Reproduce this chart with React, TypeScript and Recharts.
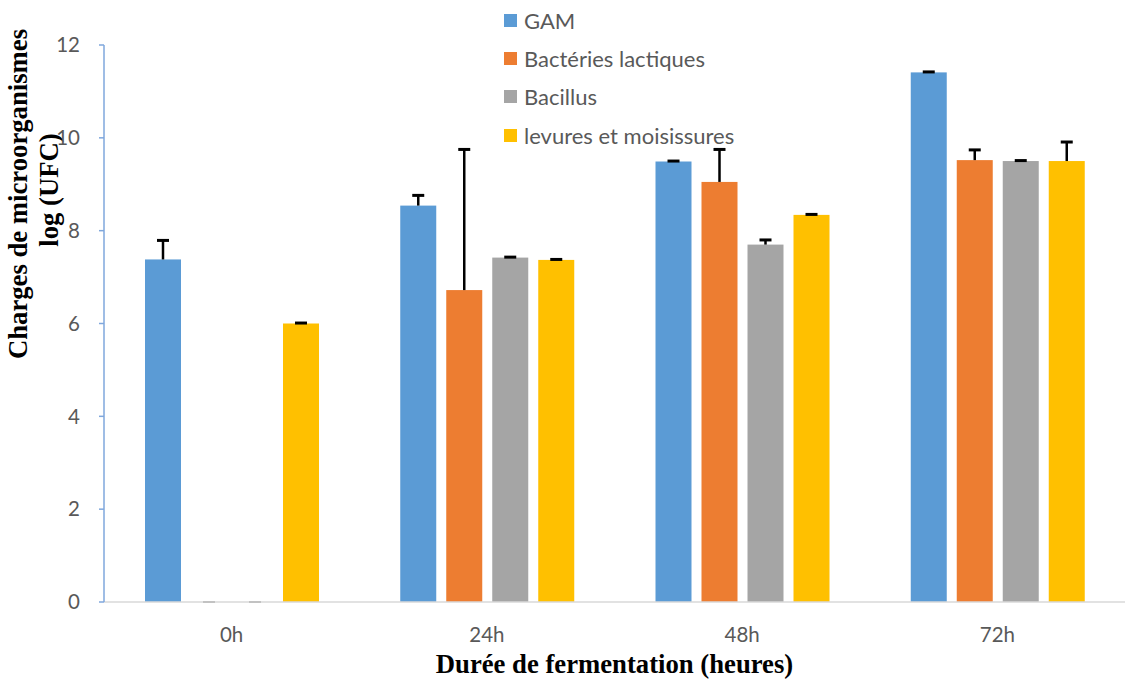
import React from 'react';
import { BarChart, Bar, XAxis, YAxis, Legend } from 'recharts';

const categories = ['0h', '24h', '48h', '72h'];
const gam = [7.38, 8.54, 9.49, 11.41];
const gamErr = [0.41, 0.22, 0.01, 0.01];
const bact = [0, 6.72, 9.05, 9.52];
const bactErr = [0, 3.03, 0.70, 0.22];
const bacillus = [0, 7.42, 7.70, 9.50];
const bacillusErr = [0, 0.01, 0.10, 0.01];
const levures = [6.0, 7.37, 8.34, 9.50];
const levuresErr = [0.01, 0.01, 0.01, 0.41];
const yTicks = [0, 2, 4, 6, 8, 10, 12];

const seriesNames = ['GAM', 'Bactéries lactiques', 'Bacillus', 'levures et moisissures'];
const seriesColors = ['#5B9BD5', '#ED7D31', '#A5A5A5', '#FFC000'];
const keys = ['gam', 'bact', 'bacillus', 'levures'];

const data = categories.map((c, i) => ({
  cat: c,
  gam: gam[i],
  gamErr: gamErr[i],
  bact: bact[i],
  bactErr: bactErr[i],
  bacillus: bacillus[i],
  bacillusErr: bacillusErr[i],
  levures: levures[i],
  levuresErr: levuresErr[i],
}));

const font = 'Lato, "Open Sans", sans-serif';
const serif = '"Liberation Serif", "Times New Roman", serif';

const makeShape = (k: string) => (props: any) => {
  const { x, y, width, height, fill, payload } = props;
  const v = payload[k];
  const e = payload[k + 'Err'];
  const cx = x + width / 2;
  if (!v) {
    return <line x1={cx - 6} x2={cx + 6} y1={y} y2={y} stroke="#7F7F7F" strokeWidth={2} />;
  }
  const pxPer = height / v;
  const ey = y - e * pxPer;
  return (
    <g>
      <rect x={x} y={y} width={width} height={height} fill={fill} />
      <line x1={cx} x2={cx} y1={y} y2={ey} stroke="#000" strokeWidth={2.5} />
      <line x1={cx - 6} x2={cx + 6} y1={ey} y2={ey} stroke="#000" strokeWidth={3} />
    </g>
  );
};

const LegendContent = () => (
  <div style={{ fontFamily: font, fontSize: 22, color: '#595959' }}>
    {seriesNames.map((n, i) => (
      <div key={n} style={{ height: 38.4, display: 'flex', alignItems: 'center' }}>
        <span style={{ width: 13, height: 13, background: seriesColors[i], display: 'inline-block', marginRight: 7 }} />
        <span>{n}</span>
      </div>
    ))}
  </div>
);

const YLabel = () => (
  <g fontFamily={serif} fontWeight="bold" fontSize={26.7} fill="#000">
    <text x={27} y={194} textAnchor="middle" transform="rotate(-90 27 194)">Charges de microorganismes</text>
    <text x={58} y={190} textAnchor="middle" transform="rotate(-90 58 190)">log (UFC)</text>
  </g>
);

export default function App() {
  return (
    <div style={{ position: 'absolute', left: 0, top: 0, width: 1133, height: 686, background: '#fff' }}>
      <BarChart
        width={1133}
        height={686}
        data={data}
        margin={{ top: 45, right: 8, bottom: 0, left: 0 }}
        barSize={36}
        barGap={10}
      >
        <XAxis
          dataKey="cat"
          height={84}
          axisLine={{ stroke: '#D9D9D9', strokeWidth: 1.5 }}
          tickLine={false}
          tickSize={0}
          tickMargin={25}
          tick={{ fill: '#595959', fontSize: 20.5, fontFamily: font }}
          label={{
            value: 'Durée de fermentation (heures)',
            position: 'insideBottom',
            offset: 13,
            style: { fontFamily: serif, fontWeight: 'bold', fontSize: 26.7, fill: '#000' },
          }}
        />
        <YAxis
          width={104}
          domain={[0, 12]}
          ticks={yTicks}
          interval={0}
          axisLine={{ stroke: '#7FA7DC', strokeWidth: 1.5 }}
          tickLine={{ stroke: '#7FA7DC', strokeWidth: 1.5 }}
          tickSize={5}
          tickMargin={19}
          tick={{ fill: '#595959', fontSize: 20.5, fontFamily: font }}
          label={{ content: () => <YLabel /> }}
        />
        <Legend
          layout="vertical"
          align="center"
          verticalAlign="middle"
          wrapperStyle={{ top: 1, left: 504, width: 320 }}
          content={<LegendContent />}
        />
        {keys.map((k, i) => (
          <Bar
            key={k}
            dataKey={k}
            name={seriesNames[i]}
            fill={seriesColors[i]}
            isAnimationActive={false}
            shape={makeShape(k)}
          />
        ))}
      </BarChart>
    </div>
  );
}
